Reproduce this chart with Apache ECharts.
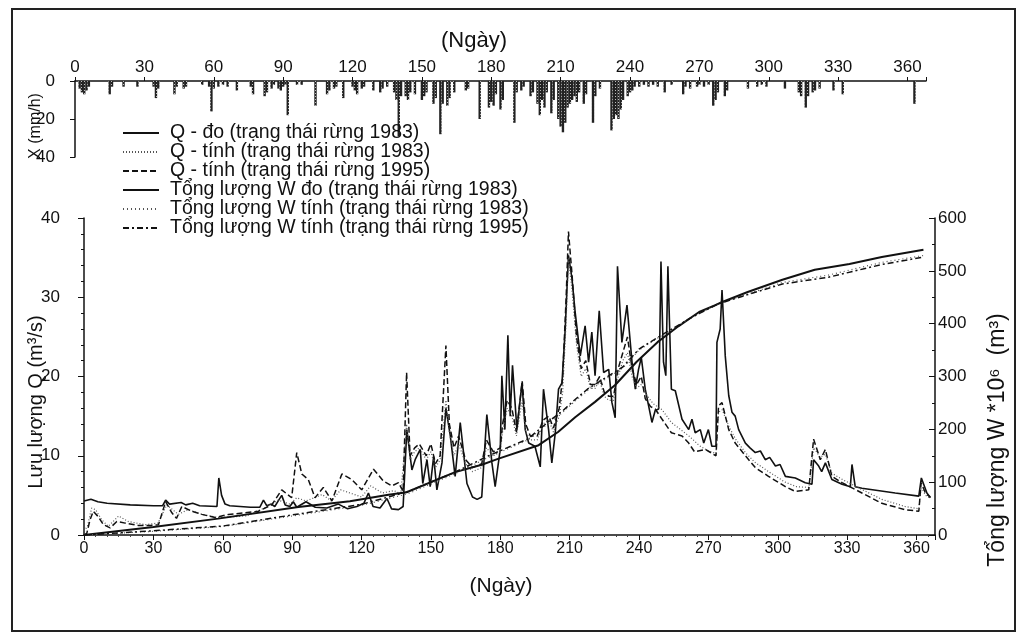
<!DOCTYPE html>
<html>
<head>
<meta charset="utf-8">
<style>
  html, body { margin: 0; padding: 0; background: #fff; }
  #chart { width: 1026px; height: 638px; }
</style>
<script src="https://cdn.jsdelivr.net/npm/echarts@6.0.0/dist/echarts.min.js"></script>
</head>
<body>
<div id="chart"></div>
<script>
// daily rainfall X (mm/h): day / value
const rainDays = [2, 3, 4, 5, 6, 15, 16, 21, 27, 34, 35, 36, 43, 44, 47, 48, 55, 58, 59, 60, 62, 64, 66, 70, 76, 77,
  82, 83, 85, 86, 88, 89, 90, 91, 92, 96, 98, 104, 109, 110, 112, 113, 116, 120, 121, 122, 124, 125, 129, 132, 133, 135,
  138, 139, 140, 141, 143, 144, 145, 147, 150, 151, 152, 155, 156, 158, 159, 161, 162, 164, 169, 170, 175, 179, 180, 181,
  182, 184, 185, 190, 191, 193, 194, 197, 198, 200, 201, 202, 203, 204, 206, 207, 209, 210, 211, 212, 213, 214, 215, 216,
  217, 218, 220, 221, 224, 225, 227, 232, 233, 234, 235, 236, 237, 239, 240, 241, 242, 244, 246, 248, 250, 252, 255, 258,
  263, 264, 266, 269, 270, 272, 274, 276, 277, 278, 281, 282, 291, 295, 297, 299, 307, 313, 314, 316, 317, 319, 320, 322,
  328, 332, 363];
const rainMm = [4, 6, 7, 5, 3, 7, 3, 3, 3, 3, 9, 4, 7, 3, 4, 3, 2, 3, 16, 4, 3, 2, 3, 5, 3, 7,
  8, 6, 4, 2, 4, 5, 3, 2, 18, 2, 2, 13, 7, 5, 4, 3, 9, 3, 5, 7, 4, 3, 5, 6, 4, 3,
  6, 10, 29, 8, 8, 10, 6, 7, 10, 8, 6, 12, 9, 28, 12, 13, 9, 6, 5, 4, 20, 14, 11, 13,
  7, 15, 10, 22, 6, 5, 3, 8, 6, 12, 18, 10, 14, 6, 17, 10, 20, 24, 27, 22, 14, 12, 10, 8,
  11, 6, 12, 7, 22, 8, 4, 26, 20, 18, 20, 15, 10, 8, 6, 5, 3, 3, 2, 3, 2, 3, 6, 2,
  7, 3, 4, 3, 2, 3, 2, 13, 10, 6, 8, 5, 4, 3, 2, 3, 4, 6, 8, 14, 8, 6, 5, 4,
  5, 7, 12];

// Q đo (trạng thái rừng 1983), m3/s: [day, Q]
const qDo = [[0, 4.3], [3, 4.5], [6, 4.2], [10, 4.0], [20, 3.8], [30, 3.7], [34, 3.7], [35.3, 4.4], [37, 3.9], [42, 4.1],
  [44, 3.8], [47, 4.0], [50, 3.7], [57.5, 3.6], [58.3, 7.2], [59.5, 5.0], [61, 3.9], [63, 3.7], [72, 3.5], [76, 3.5],
  [77.6, 4.4], [79, 3.7], [81, 3.9], [82.5, 3.6], [84, 4.3], [85.5, 5.0], [87, 3.8], [89, 3.6], [90.5, 4.2], [92, 3.5],
  [96, 4.2], [100, 3.5], [105, 3.4], [110, 3.9], [114, 3.3], [118, 3.6], [121, 4.0], [123, 5.3], [125, 3.6], [128, 3.4],
  [131, 4.6], [133, 3.3], [136, 3.2], [138, 3.6], [139.6, 13.3], [141.8, 8.2], [143.2, 9.5], [145.4, 10.8], [146.5, 6.5],
  [148.3, 9.5], [149.7, 6.1], [151.2, 9.9], [152.6, 5.7], [154.8, 9.1], [156.5, 16], [158.4, 12.5], [160.5, 7.4],
  [162.7, 14.2], [165.6, 6.5], [168, 4.8], [170, 4.5], [172, 4.8], [174.2, 15.2], [176.4, 9.1], [177.8, 6.1], [180, 10.8],
  [180.7, 20.1], [182, 13.3], [183.3, 25.2], [184.3, 15], [185.3, 21.4], [187.2, 13.3], [189.4, 19.2], [190.8, 13.3],
  [192.3, 11.6], [195, 11.2], [197.3, 8.6], [198.7, 18.4], [200.9, 13.3], [202.3, 9.1], [203.8, 12.9], [205.2, 18.4],
  [206.7, 19.2], [208.1, 26], [209.5, 35.3], [211, 32.4], [212.4, 28.1], [214.6, 22.6], [216.7, 26.4], [218.2, 21.8],
  [219.6, 25.6], [221, 20.1], [222.8, 28.3], [224.7, 20.5], [226.9, 20.9], [228.3, 16.7], [229.7, 14.8], [230.7, 33.9],
  [232.6, 24.3], [234.8, 29], [237, 21.8], [238.4, 18.4], [239.8, 20.9], [241, 22.4], [242.7, 18.4], [245.6, 14.2],
  [247, 15.7], [248.5, 15.9], [249.5, 34.5], [250.6, 21.8], [251.6, 20.1], [252.5, 33.9], [254, 18.4], [255.7, 18.2],
  [258.6, 14.6], [261.5, 13.3], [262.9, 14.6], [264.3, 12.9], [266.5, 13.3], [268, 11.6], [270, 13.3], [271.5, 11.2],
  [273.3, 11.2], [273.7, 24.3], [275.1, 26], [275.9, 30.9], [277.3, 22.6], [278.8, 17.6], [280.2, 15.5], [281.6, 15],
  [283.1, 13.3], [286, 11.6], [288, 11.0], [290.3, 10.4], [292.5, 10.6], [294.6, 9.5], [296.5, 9.8], [299, 8.7],
  [301, 8.9], [303.3, 7.4], [307.6, 7.2], [311.9, 6.6], [314.8, 6.4], [315.5, 9.5], [317.7, 8.7], [319, 8.0], [320.6, 9.1],
  [323.4, 7], [327.8, 6.4], [331.4, 6.1], [332.1, 8.9], [333.5, 6.1], [336.4, 5.9], [350.8, 5.3], [361, 4.9], [362.1, 7.2],
  [364.5, 5.3], [366, 4.7]];

// Q tính (trạng thái rừng 1983)
const qTinh83 = [[0, 0.5], [1.5, 1.1], [3.3, 3.4], [5, 3.2], [7.7, 1.9], [10.5, 1.1], [15, 2.4], [19.2, 1.7], [26.4, 1.3],
  [32, 1.5], [35.8, 3.8], [40.8, 2.6], [45, 3.2], [51, 2.6], [58, 2.2], [70, 2.4], [78, 3.4], [84, 4.4], [89, 3.9],
  [92, 4.7], [96, 4.3], [103, 5.1], [107, 4.3], [111, 5.7], [116, 5.2], [120, 4.8], [124, 6.2], [129, 5.3], [134, 5.6],
  [137, 5.2], [139.5, 14], [141, 9.5], [143, 10.5], [145, 11], [148, 9.5], [150, 10.5], [152, 8.5], [154, 9.5],
  [156.5, 17], [158, 13], [160, 10], [162, 11.5], [165, 9], [168, 8], [172, 8.5], [174, 11], [177, 10], [180, 10.5],
  [181, 13], [183, 16], [185, 15], [187, 12.5], [189.5, 17], [191, 13], [193, 12], [196, 12], [198.5, 14], [201, 14.5],
  [203, 13], [205.5, 15], [207, 18], [208.5, 27], [209.5, 35], [211, 31], [213, 24], [215, 20], [217, 21], [219, 18.5],
  [221, 18.5], [223, 19.5], [225, 17.5], [227, 17], [229, 17], [231, 20], [233, 22], [235, 23], [237, 20], [239, 18.5],
  [241, 19], [243, 17.8], [246, 16.6], [250, 15.8], [254, 14.2], [258, 13.3], [262, 12.4], [266, 11.3], [270, 10.6],
  [273.3, 10.3], [274.4, 15.5], [276, 15.8], [279, 13.6], [282, 12], [286, 10.4], [290, 9.2], [296, 8], [303, 6.7],
  [308, 6.1], [313.5, 6.0], [315.5, 11], [318.4, 9.8], [320.6, 10.2], [323.4, 7.8], [328, 7], [336, 5.8], [345, 4.5],
  [355, 3.6], [361, 3.3], [362, 6], [364, 5], [366, 4.6]];

// Q tính (trạng thái rừng 1995)
const qTinh95 = [[0, 0], [1.2, 0.2], [2.6, 1.9], [4, 3.0], [6.2, 2.3], [8.4, 1.3], [11.3, 0.9], [14.2, 1.7], [17.8, 1.5],
  [23.5, 1.2], [28.6, 1.2], [32.2, 1.3], [35.3, 4.2], [38, 2.8], [40, 2.1], [42.3, 3.6], [46.6, 3.0], [51, 2.6],
  [56.7, 2.2], [62.5, 2.6], [69.7, 2.8], [75.4, 3.0], [81.2, 3.8], [85.5, 5.7], [89.8, 4.7], [92, 10.4], [94.2, 7.7],
  [97, 7.0], [99.9, 4.7], [103.5, 6.0], [107.2, 4.3], [111.5, 7.7], [115.8, 7.0], [120.1, 5.7], [125.2, 8.3],
  [129.5, 6.8], [133.1, 6.2], [136, 6.6], [138, 5.5], [139.5, 20.5], [141, 10], [143, 11], [145, 11.5], [148, 10],
  [150, 11.5], [152, 9], [154, 10], [156.5, 23.9], [158, 14], [160, 11], [162, 12.5], [165, 9.5], [168, 8.5], [172, 9],
  [174, 12], [177, 10.5], [180, 11], [181, 14], [183, 17], [185, 16], [187, 13], [189.5, 19.4], [191, 14], [193, 12.5],
  [196, 12.5], [198.5, 14.5], [201, 15], [203, 13.5], [205.5, 16], [207, 20], [208.5, 30], [209.5, 38.3], [211, 33],
  [213, 25], [215, 21], [217, 22], [219, 19], [221, 19], [223, 20], [225, 18], [227, 17.5], [229, 17.5], [231, 21],
  [233, 23], [235, 25], [237, 21], [239, 19], [241, 20], [242.7, 17.2], [245, 16.2], [247, 15.9], [250, 14.6],
  [254, 12.9], [258.6, 12.5], [261.5, 11.6], [264, 10.5], [268.7, 10.8], [273.3, 10], [274.4, 16.3], [275.9, 16.7],
  [278.8, 13.3], [281.6, 11.6], [286, 10], [290.3, 8.5], [296, 7.4], [303.3, 6.1], [307.6, 5.5], [313.4, 5.7],
  [315.5, 12.1], [318.4, 9.5], [320.6, 10.8], [323.4, 7.4], [327.8, 6.6], [336.4, 5.3], [345, 4], [355, 3.2], [361, 3],
  [362, 6.6], [364, 5.2], [366, 4.8]];

// Tổng lượng W (*10^6 m3)
const wDo = [[0, 0], [30, 15], [58, 31], [92.7, 53], [115, 64], [131.7, 76], [139.5, 81], [160.5, 119], [172, 133],
  [179, 144], [196.6, 170], [205, 195], [212.4, 223], [221, 252], [229.7, 284], [239, 328], [248, 365], [257, 395],
  [266, 422], [273, 435], [276, 441], [287, 460], [302, 483], [316, 502], [331, 513], [345, 526], [363, 540]];
const wTinh83 = [[0, 0], [30, 7], [60, 16], [93, 38], [120, 56], [140, 78], [160, 115], [175, 147], [192, 180],
  [201, 212], [207, 232], [212, 252], [218, 274], [233, 316], [240, 350], [250, 378], [262, 410], [274, 437],
  [287, 456], [302, 478], [322, 492], [345, 516], [363, 529]];
const wTinh95 = [[0, 0], [30, 8], [60, 17], [93, 40], [120, 58], [140, 82], [160, 118], [175, 150], [192, 182],
  [201, 215], [207, 235], [212, 255], [218, 277], [233, 318], [240, 352], [250, 379], [262, 410], [274, 437],
  [287, 455], [302, 475], [322, 488], [345, 512], [363, 526]];

const dayTicks = [0, 30, 60, 90, 120, 150, 180, 210, 240, 270, 300, 330, 360];

const names = [
  'Q - đo (trạng thái rừng 1983)',
  'Q - tính (trạng thái rừng 1983)',
  'Q - tính (trạng thái rừng 1995)',
  'Tổng lượng W đo (trạng thái rừng 1983)',
  'Tổng lượng W tính (trạng thái rừng 1983)',
  'Tổng lượng W tính (trạng thái rừng 1995)',
];

const font = 'Liberation Sans, Arial, sans-serif';
const ink = '#111';

const dayLabel = (v) => (dayTicks.includes(v) ? String(v) : '');

const line = (name, data, yAxisIndex, width, type, color) => ({
  name,
  type: 'line',
  xAxisIndex: 1,
  yAxisIndex,
  data,
  showSymbol: false,
  symbol: 'none',
  animation: false,
  lineStyle: { color: color || ink, width, type },
  itemStyle: { color: color || ink },
  z: 3,
});

const chart = echarts.init(document.getElementById('chart'), null, { renderer: 'canvas' });

chart.setOption({
  backgroundColor: '#fff',
  animation: false,
  aria: { enabled: true, decal: { show: true } },
  textStyle: { fontFamily: font, color: ink },
  grid: [
    { left: 75, width: 851, top: 81, height: 76 },
    { left: 84, width: 851, top: 218, height: 317 },
  ],
  xAxis: [
    {
      gridIndex: 0, type: 'value', position: 'top', min: 0, max: 368, interval: 30,
      axisLine: { lineStyle: { color: ink, width: 1.5 } },
      axisTick: { show: true, length: 4, lineStyle: { color: ink } },
      axisLabel: { formatter: dayLabel, fontSize: 17, margin: 5, color: ink, fontFamily: font },
      splitLine: { show: false },
    },
    {
      gridIndex: 1, type: 'value', min: 0, max: 368, interval: 30,
      axisLine: { onZero: false, lineStyle: { color: ink, width: 1.5 } },
      axisTick: { show: true, length: 5, lineStyle: { color: ink } },
      minorTick: { show: true, splitNumber: 6, length: 2, lineStyle: { color: '#444' } },
      axisLabel: { formatter: dayLabel, fontSize: 16, margin: 6, color: ink, fontFamily: font },
      splitLine: { show: false },
    },
  ],
  yAxis: [
    {
      gridIndex: 0, type: 'value', inverse: true, min: 0, max: 40, interval: 20,
      axisLine: { show: true, lineStyle: { color: ink, width: 1.5 } },
      axisTick: { show: true, length: 5, lineStyle: { color: ink } },
      axisLabel: { fontSize: 17, margin: 20, color: ink, fontFamily: font },
      splitLine: { show: false },
    },
    {
      gridIndex: 1, type: 'value', min: 0, max: 40, interval: 10,
      axisLine: { show: true, onZero: false, lineStyle: { color: ink, width: 1.5 } },
      axisTick: { show: true, length: 6, lineStyle: { color: ink } },
      minorTick: { show: true, splitNumber: 5, length: 3, lineStyle: { color: ink } },
      axisLabel: { fontSize: 17, margin: 24, color: ink, fontFamily: font },
      splitLine: { show: false },
    },
    {
      gridIndex: 1, type: 'value', position: 'right', min: 0, max: 600, interval: 100,
      axisLine: { show: true, onZero: false, lineStyle: { color: ink, width: 1.5 } },
      axisTick: { show: true, inside: true, length: 6, lineStyle: { color: ink } },
      minorTick: { show: true, splitNumber: 2, length: 3, lineStyle: { color: ink } },
      axisLabel: { fontSize: 17, margin: 3, color: ink, fontFamily: font },
      splitLine: { show: false },
    },
  ],
  legend: {
    orient: 'vertical',
    left: 117,
    top: 118,
    itemWidth: 36,
    itemHeight: 10,
    itemGap: -1,
    selectedMode: false,
    data: names,
    itemStyle: { opacity: 0 },
    textStyle: { fontSize: 19.5, lineHeight: 17.5, color: ink, fontFamily: font, padding: [0, 0, 0, 6] },
  },
  series: [
    {
      name: 'X',
      type: 'bar',
      xAxisIndex: 0,
      yAxisIndex: 0,
      barWidth: 2.4,
      data: rainDays.map((d, i) => [d, rainMm[i]]),
      itemStyle: {
        color: '#222',
        decal: { symbol: 'rect', symbolSize: 1, color: 'rgba(255,255,255,0.7)', dashArrayX: [1, 2], dashArrayY: [1, 2], rotation: 0 },
      },
    },
    line(names[0], qDo, 1, 1.6, 'solid'),
    line(names[1], qTinh83, 1, 1.2, [1, 2], '#555'),
    line(names[2], qTinh95, 1, 1.5, [6, 3]),
    line(names[3], wDo, 2, 2, 'solid'),
    line(names[4], wTinh83, 2, 1.2, [1, 3], '#555'),
    line(names[5], wTinh95, 2, 1.5, [6, 3, 2, 3]),
  ],
  graphic: [
    {
      type: 'rect', silent: true,
      shape: { x: 12, y: 9, width: 1003, height: 622 },
      style: { fill: 'none', stroke: '#222', lineWidth: 2 },
    },
    {
      type: 'text', x: 474, y: 41,
      style: { text: '(Ngày)', font: '22px ' + font, fill: ink, textAlign: 'center', textVerticalAlign: 'middle' },
    },
    {
      type: 'text', x: 501, y: 586,
      style: { text: '(Ngày)', font: '21px ' + font, fill: ink, textAlign: 'center', textVerticalAlign: 'middle' },
    },
    {
      type: 'text', x: 36, y: 126, rotation: Math.PI / 2,
      style: { text: 'X (mm/h)', font: '16px ' + font, fill: ink, textAlign: 'center', textVerticalAlign: 'middle' },
    },
    {
      type: 'text', x: 36, y: 402, rotation: Math.PI / 2,
      style: { text: 'Lưu lượng Q (m³/s)', font: '20px ' + font, fill: ink, textAlign: 'center', textVerticalAlign: 'middle' },
    },
    {
      type: 'text', x: 998, y: 440, rotation: Math.PI / 2,
      style: { text: 'Tổng lượng W *10⁶  (m³)', font: '23px ' + font, fill: ink, textAlign: 'center', textVerticalAlign: 'middle' },
    },
  ],
});
</script>
</body>
</html>
